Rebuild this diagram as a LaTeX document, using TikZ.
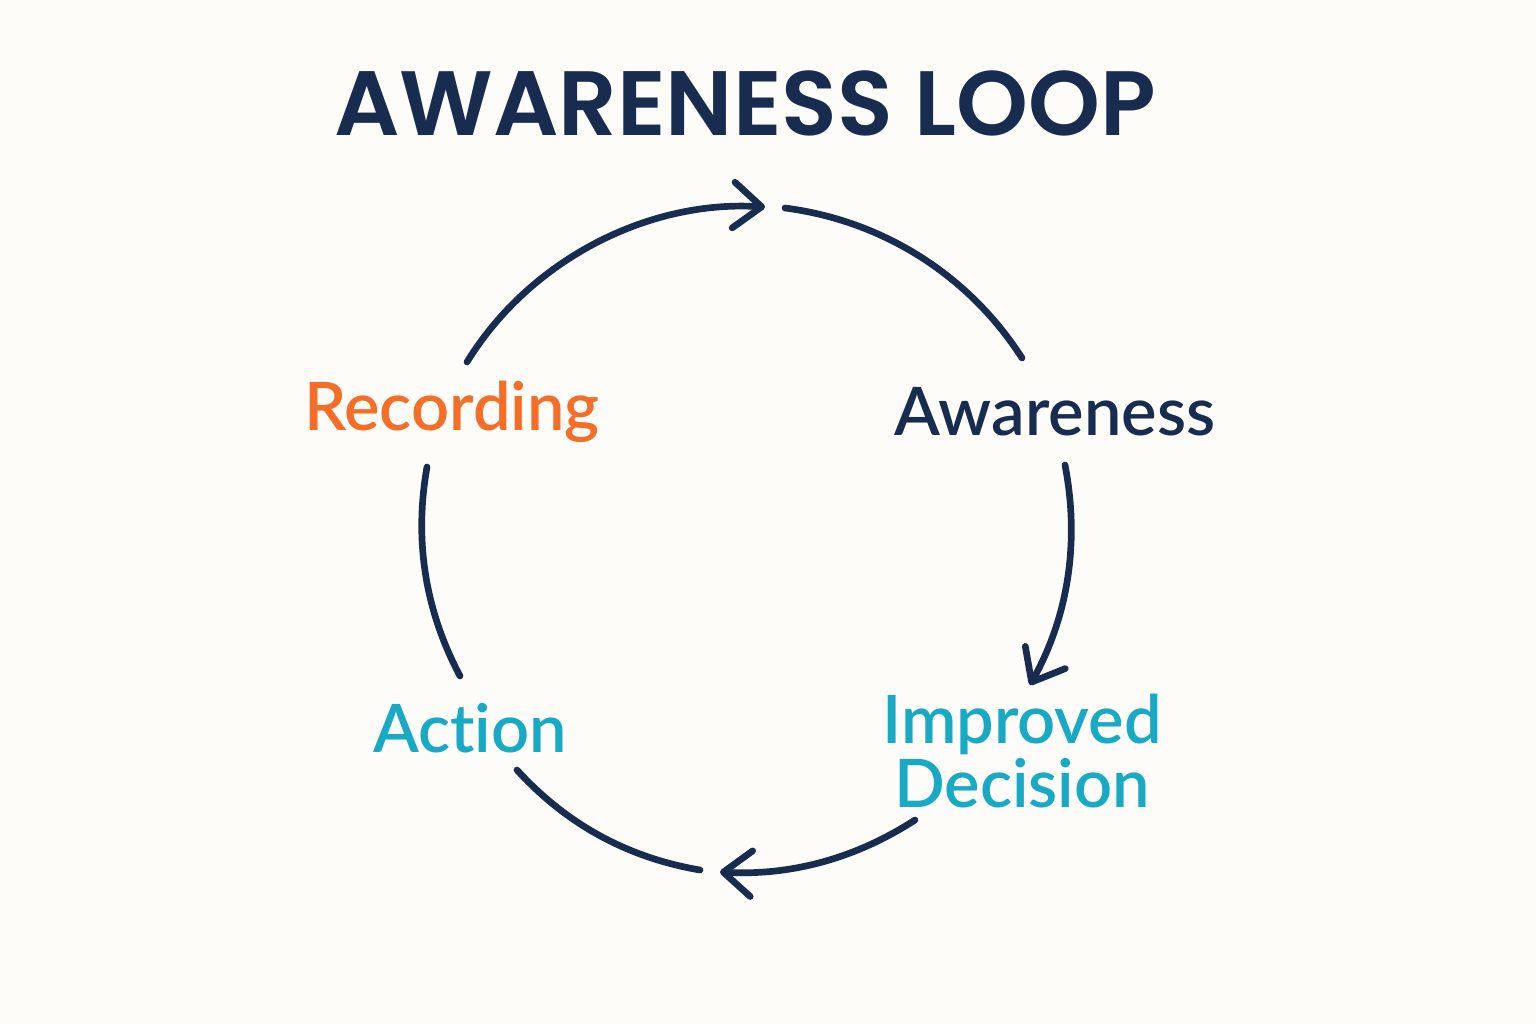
\documentclass[tikz,border=0pt]{standalone}
\usepackage{fontspec}
\setmainfont{Lato}
\newfontfamily\pmed{Lato Semibold}[Ligatures={NoCommon,NoRare,NoDiscretionary}]
\newfontfamily\psemi{Poppins SemiBold}
\usetikzlibrary{arrows.meta}
\definecolor{navy}{RGB}{24,44,80}
\definecolor{teal}{RGB}{24,170,196}
\definecolor{orng}{RGB}{245,110,40}
\definecolor{bg}{RGB}{253,252,249}
\begin{document}
\begin{tikzpicture}[x=0.01cm,y=-0.01cm,
  loop/.style={draw=navy,line width=1.9pt,line cap=round,looseness=0.9},
  tip/.style={-{Straight Barb[length=8pt,width=13pt,line cap=round,line join=round]}},
  lbl/.style={font=\pmed\fontsize{19}{18}\selectfont,align=center,inner sep=0pt}]
\fill[bg] (0,0) rectangle (1536,1024);
\useasboundingbox (0,0) rectangle (1536,1024);
\node[font=\psemi\fontsize{26}{32}\selectfont,text=navy] (title) at (745,103) {AWARENESS LOOP};
\node[lbl,text=orng] (rec) at (452,412) {Recording};
\node[lbl,text=navy] (awa) at (1055,412) {Awareness};
\node[lbl,text=teal] (act) at (470,728) {Action};
\node[lbl,text=teal] (imp) at (1022,751) {Improved\\Decision};
% arc end points
\coordinate (r1) at (467,362);
\coordinate (t1) at (765,207);
\coordinate (t2) at (785,208);
\coordinate (a1) at (1022,358);
\coordinate (a2) at (1065,465);
\coordinate (i1) at (1030,685);
\coordinate (i2) at (915,820);
\coordinate (b1) at (720,872);
\coordinate (b2) at (700,870);
\coordinate (c1) at (517,770);
\coordinate (c2) at (460,676);
\coordinate (r2) at (427,467);
\draw[loop,tip] (r1) to[bend left=31] (t1);
\draw[loop] (t2) to[bend left=25] (a1);
\draw[loop,tip] (a2) to[bend left=20] (i1);
\draw[loop,tip] (i2) to[bend left=18] (b1);
\draw[loop] (b2) to[bend left=19] (c1);
\draw[loop] (c2) to[bend left=19] (r2);
\end{tikzpicture}
\end{document}
